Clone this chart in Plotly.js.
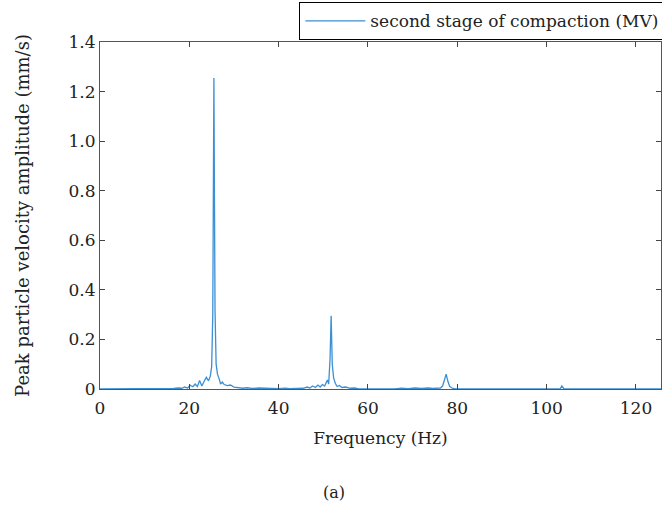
<!DOCTYPE html>
<html>
<head>
<meta charset="utf-8">
<script src="https://cdn.plot.ly/plotly-3.0.1.min.js"></script>
<style>html,body{margin:0;padding:0;background:#fff;}#chart{width:662px;height:506px;}</style>
</head>
<body>
<div id="chart"></div>
<script>
const seriesName = "second stage of compaction (MV)";
const frequencyHz = [0, 15.5, 16.5, 17.5, 18.3, 19.0, 19.6, 20.2, 20.8, 21.3, 21.8, 22.3, 22.8, 23.3, 23.8, 24.3, 24.7, 25.0, 25.25, 25.5, 25.75, 26.0, 26.3, 26.7, 27.0, 27.4, 27.8, 28.5, 29.2, 30.0, 31.0, 32.0, 33.0, 34.0, 35.5, 37.0, 38.5, 40.0, 41.5, 42.5, 44.0, 45.5, 46.4, 47.0, 47.6, 48.2, 48.8, 49.3, 49.8, 50.3, 50.9, 51.2, 51.5, 51.75, 52.0, 52.3, 52.7, 53.1, 53.6, 54.2, 55.0, 56.0, 57.0, 58.0, 66.0, 67.5, 69.0, 70.5, 72.0, 73.5, 74.5, 75.5, 76.2, 76.7, 77.1, 77.5, 77.9, 78.3, 78.8, 79.6, 103.0, 103.4, 103.9, 126];
const amplitude = [0, 0, 0.002, 0.004, 0.003, 0.008, 0.004, 0.015, 0.009, 0.02, 0.01, 0.034, 0.012, 0.03, 0.047, 0.033, 0.052, 0.09, 0.3, 1.255, 0.32, 0.1, 0.06, 0.04, 0.02, 0.028, 0.018, 0.014, 0.016, 0.008, 0.006, 0.003, 0.005, 0.002, 0.004, 0.002, 0.003, 0.001, 0.003, 0.001, 0.002, 0.003, 0.008, 0.004, 0.012, 0.006, 0.016, 0.008, 0.018, 0.012, 0.036, 0.02, 0.12, 0.295, 0.1, 0.045, 0.022, 0.01, 0.014, 0.006, 0.008, 0.003, 0.004, 0, 0, 0.003, 0.001, 0.004, 0.002, 0.004, 0.002, 0.003, 0.004, 0.012, 0.035, 0.06, 0.03, 0.01, 0.004, 0, 0, 0.012, 0, 0];
const xTickVals = [0, 20, 40, 60, 80, 100, 120];
const yTickVals = [0, 0.2, 0.4, 0.6, 0.8, 1.0, 1.2, 1.4];
const yTickText = ["0", "0.2", "0.4", "0.6", "0.8", "1.0", "1.2", "1.4"];

const fontFam = "DejaVu Serif, serif";
const txtCol = "#222";
const trace = {
  x: frequencyHz, y: amplitude, type: "scatter", mode: "lines",
  name: seriesName, line: {color: "#3a8fd6", width: 1.3}
};
const axisCommon = {
  showline: true, linecolor: "#555", linewidth: 1, mirror: "ticks",
  ticks: "inside", ticklen: 5, tickcolor: "#444", showgrid: false, zeroline: false,
  tickfont: {family: fontFam, size: 17, color: txtCol}
};
const layout = {
  width: 662, height: 506,
  margin: {l: 100, r: 1, t: 42, b: 117, autoexpand: false},
  paper_bgcolor: "#fff", plot_bgcolor: "#fff",
  font: {family: fontFam, color: txtCol},
  showlegend: true,
  legend: {x: 1.006, xanchor: "right", y: 1.005, yanchor: "bottom", bordercolor: "#000", borderwidth: 1,
           itemwidth: 60, bgcolor: "#fff", font: {family: fontFam, size: 17, color: txtCol}},
  xaxis: Object.assign({}, axisCommon, {range: [0, 125.6], tickvals: xTickVals, ticklabelstandoff: 4,
    title: {text: "Frequency (Hz)", font: {family: fontFam, size: 17, color: txtCol}, standoff: 14}}),
  yaxis: Object.assign({}, axisCommon, {range: [0, 1.4], tickvals: yTickVals, ticktext: yTickText,
    title: {text: "Peak particle velocity amplitude (mm/s)", font: {family: fontFam, size: 18, color: txtCol}, standoff: 34}}),
  annotations: [{text: "(a)", xref: "paper", yref: "paper", x: 0.418, y: -0.297, yanchor: "middle", showarrow: false,
    font: {family: fontFam, size: 16, color: txtCol}}]
};
Plotly.newPlot("chart", [trace], layout, {displayModeBar: false, staticPlot: true});
</script>
</body>
</html>
